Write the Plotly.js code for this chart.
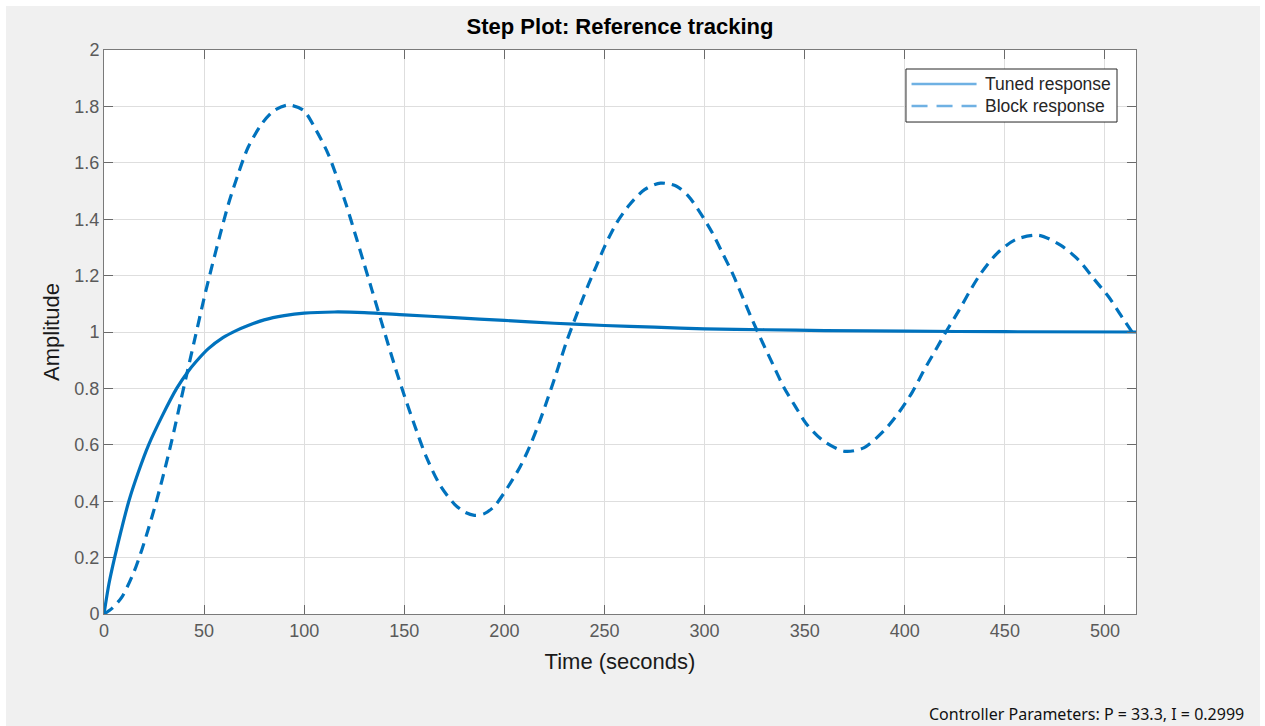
<!DOCTYPE html>
<html>
<head>
<meta charset="utf-8">
<script src="https://cdn.plot.ly/plotly-3.0.1.min.js"></script>
<style>
  html, body { margin: 0; padding: 0; background: #ffffff; }
  #chart { position: absolute; left: 6px; top: 6px; width: 1254px; height: 720px; }
</style>
</head>
<body>
<div id="chart"></div>
<script>
// Closed-loop step responses (time in seconds, amplitude)
const tunedTime = [0, 2.5, 5.3, 8.7, 12.4, 17, 22.3, 28.9, 36.3, 42, 45.4, 52, 59.4, 66, 72, 80, 90, 100, 115, 130, 150, 175, 200, 225, 250, 275, 300, 330, 360, 400, 450, 515.5];
const tunedAmp  = [0, 0.108, 0.2, 0.3, 0.4, 0.5, 0.6, 0.7, 0.8, 0.86, 0.89, 0.94, 0.98, 1.005, 1.023, 1.043, 1.058, 1.067, 1.071, 1.069, 1.061, 1.051, 1.041, 1.031, 1.023, 1.017, 1.011, 1.008, 1.005, 1.003, 1.001, 1.0];

const blockTime = [0, 4, 9, 15, 19, 22.3, 26, 29, 32, 35, 37.5, 41.5, 45.5, 50, 54, 58, 62, 67, 72, 79, 85, 92, 99.5, 106, 112, 117, 121, 126, 130, 134, 138, 142, 146, 150, 155, 161, 168, 175, 180, 185, 190, 195, 202, 208, 213, 218, 222, 226, 231, 236, 241.5, 245.8, 250, 256, 262.5, 270, 278, 286, 292, 298, 304, 309, 314, 319, 324, 329, 334, 339.5, 345, 351, 359.5, 370, 379.5, 389.5, 397, 403.7, 409.5, 415.3, 421.2, 427, 432.5, 438, 446, 455.5, 467, 478, 487, 494.5, 502, 508.7, 515.5];
const blockAmp  = [0, 0.02, 0.061, 0.15, 0.23, 0.305, 0.395, 0.475, 0.56, 0.65, 0.73, 0.855, 0.98, 1.12, 1.235, 1.345, 1.45, 1.56, 1.655, 1.74, 1.785, 1.805, 1.787, 1.715, 1.631, 1.535, 1.451, 1.335, 1.24, 1.145, 1.05, 0.955, 0.862, 0.775, 0.672, 0.557, 0.455, 0.39, 0.362, 0.35, 0.356, 0.382, 0.453, 0.524, 0.6, 0.69, 0.771, 0.855, 0.965, 1.06, 1.16, 1.232, 1.302, 1.386, 1.451, 1.505, 1.528, 1.517, 1.481, 1.421, 1.35, 1.279, 1.207, 1.124, 1.04, 0.962, 0.887, 0.805, 0.74, 0.673, 0.613, 0.577, 0.589, 0.649, 0.714, 0.786, 0.863, 0.935, 1.008, 1.076, 1.145, 1.208, 1.278, 1.328, 1.343, 1.307, 1.254, 1.188, 1.123, 1.051, 0.98];

const seriesNames = ['Tuned response', 'Block response'];
const xTicks = [0, 50, 100, 150, 200, 250, 300, 350, 400, 450, 500];
const yTicks = [0, 0.2, 0.4, 0.6, 0.8, 1, 1.2, 1.4, 1.6, 1.8, 2];

const lineBlue = '#0072BD';
const legendBlue = '#6FB1E3';
const fontFamily = '"Liberation Sans", Arial, Helvetica, sans-serif';

const traces = [
  { x: tunedTime, y: tunedAmp, type: 'scatter', mode: 'lines', name: seriesNames[0],
    line: { color: lineBlue, width: 3.2, shape: 'spline', smoothing: 0.8 }, hoverinfo: 'x+y' },
  { x: blockTime, y: blockAmp, type: 'scatter', mode: 'lines', name: seriesNames[1],
    line: { color: lineBlue, width: 3.2, dash: '11px,7px', shape: 'spline', smoothing: 0.8 }, hoverinfo: 'x+y' }
];

const axisCommon = {
  showline: true, linecolor: '#7a7a7a', linewidth: 1, mirror: 'allticks',
  ticks: 'inside', ticklen: 9, tickwidth: 1, tickcolor: '#6a6a6a',
  showgrid: true, gridcolor: '#dedede', gridwidth: 1, zeroline: false,
  tickfont: { family: fontFamily, size: 18, color: '#5a5a5a' }
};

// Legend box in the upper right of the axes (paper coordinates)
const legBox = { x0: 0.7771, x1: 0.9816, y0: 0.8723, y1: 0.9663 };
const legRows = [0.9397, 0.9007];
const legLine = { x0: 0.7825, x1: 0.8455 };
const legTextX = 0.8515;
const legDash = ['solid', '16px,9px'];

const legendShapes = [
  { type: 'rect', xref: 'paper', yref: 'paper', x0: legBox.x0, x1: legBox.x1, y0: legBox.y0, y1: legBox.y1,
    fillcolor: '#ffffff', line: { color: '#262626', width: 1 }, layer: 'above' }
].concat(seriesNames.map((n, i) => ({
  type: 'line', xref: 'paper', yref: 'paper', x0: legLine.x0, x1: legLine.x1, y0: legRows[i], y1: legRows[i],
  line: { color: legendBlue, width: 2.5, dash: legDash[i] }, layer: 'above'
})));

const legendLabels = seriesNames.map((n, i) => ({
  text: n, xref: 'paper', yref: 'paper', x: legTextX, y: legRows[i],
  xanchor: 'left', yanchor: 'middle', showarrow: false,
  font: { family: fontFamily, size: 17.5, color: '#262626' }
}));

const layout = {
  width: 1254, height: 720,
  paper_bgcolor: '#f0f0f0', plot_bgcolor: '#ffffff',
  margin: { l: 98, r: 124, t: 44, b: 112 },
  font: { family: fontFamily },
  showlegend: false,
  title: {
    text: '<b>Step Plot: Reference tracking</b>',
    font: { family: fontFamily, size: 22, color: '#000000' },
    x: 0.5, xref: 'paper', xanchor: 'center',
    y: 1, yref: 'paper', yanchor: 'bottom', pad: { b: 16 }
  },
  xaxis: Object.assign({}, axisCommon, {
    range: [0, 515.5], tickvals: xTicks, ticktext: xTicks.map(String),
    title: { text: 'Time (seconds)', font: { family: fontFamily, size: 22, color: '#1a1a1a' }, standoff: 14 }
  }),
  yaxis: Object.assign({}, axisCommon, {
    range: [0, 2], tickvals: yTicks, ticktext: yTicks.map(String),
    title: { text: 'Amplitude', font: { family: fontFamily, size: 22, color: '#1a1a1a' }, standoff: 8 }
  }),
  shapes: legendShapes,
  annotations: legendLabels.concat([{
    text: 'Controller Parameters: P = 33.3, I = 0.2999',
    xref: 'paper', yref: 'paper', x: 1.0 + 110 / 1032, y: -0.177,
    xanchor: 'right', yanchor: 'middle', showarrow: false,
    font: { family: '"Noto Sans", "DejaVu Sans", sans-serif', size: 16, color: '#111111' }
  }])
};

Plotly.newPlot('chart', traces, layout, { displayModeBar: false, staticPlot: true });
</script>
</body>
</html>
